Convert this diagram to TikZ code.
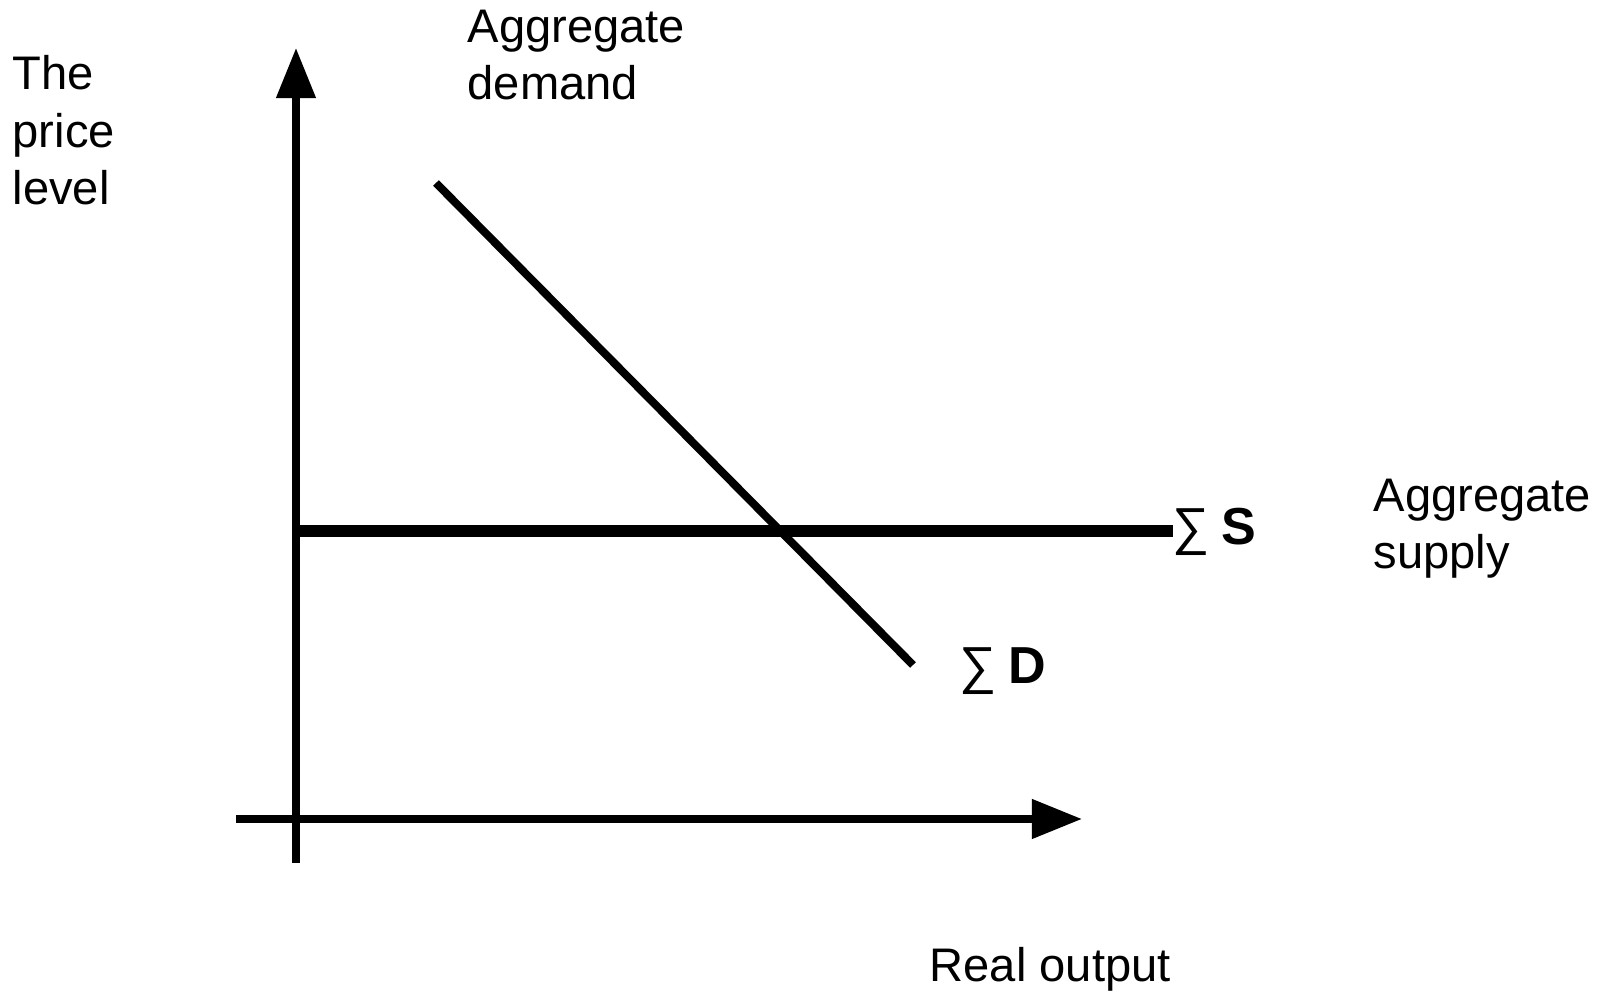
\documentclass[tikz,border=0pt]{standalone}
\usepackage{fontspec}
\setmainfont{Liberation Sans}
\usetikzlibrary{arrows.meta}

\begin{document}
\begin{tikzpicture}[x=0.01cm,y=-0.01cm,
        axisline/.style={line width=0.075cm},
        demandline/.style={line width=0.08cm},
        supplyline/.style={line width=0.125cm},
        bigtip/.style={-{Triangle[length=0.5cm,width=0.38cm]}},
        lbl/.style={inner sep=0pt,align=left,font=\fontsize{13.4}{16.35}\selectfont},
        sumlbl/.style={inner sep=0pt,font=\fontsize{14.8}{18}\selectfont}]
        \useasboundingbox (0,0) rectangle (1605,995);
        % axis
        \coordinate (ytip) at (296,48);
        \coordinate (ybot) at (296,863);
        \coordinate (xleft) at (236,819);
        \coordinate (xtip) at (1082,819);
        \path[draw, axisline, bigtip](ybot)to(ytip);
        \path[draw, axisline, bigtip](xleft)to(xtip);
        % supply
        \coordinate (s0) at (296,531);
        \coordinate (s1) at (1173,531);
        \path[draw, supplyline](s0)to(s1);
        % demand
        \coordinate (d0) at (436,183);
        \coordinate (d1) at (913,665);
        \path[draw, demandline](d0)to(d1);
        % labels (base = last line)
        \node[lbl, anchor=base west] (pricelabel) at (12,205) {The\\price\\level};
        \node[lbl, anchor=base west] (demandlabel) at (467,100) {Aggregate\\demand};
        \node[lbl, anchor=base west] (supplylabel) at (1373,569) {Aggregate\\supply};
        \node[lbl, anchor=base west] (outputlabel) at (929,982) {Real output};
        \node[sumlbl, anchor=base west] (sumS) at (1172,545) {∑\hspace{0.22em}\textbf{S}};
        \node[sumlbl, anchor=base west] (sumD) at (959,684) {∑\hspace{0.22em}\textbf{D}};
\end{tikzpicture}
\end{document}
